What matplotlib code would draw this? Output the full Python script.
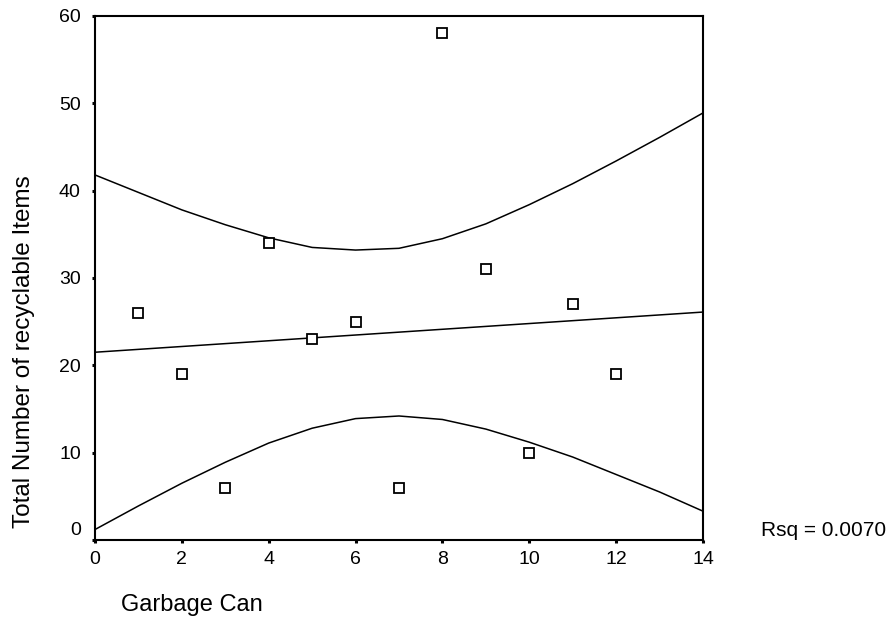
import matplotlib.pyplot as plt
from matplotlib.transforms import ScaledTranslation

plt.rcParams["font.family"] = ["Liberation Sans", "DejaVu Sans"]

# observed points
can = [1, 2, 3, 4, 5, 6, 7, 8, 9, 10, 11, 12]
items = [26, 19, 6, 34, 23, 25, 6, 58, 31, 10, 27, 19]

# fitted line (read at the ends of the x range)
fit_x = [0, 14]
fit_y = [21.5, 26.1]

# confidence band, read at each integer x
band_x = [0, 1, 2, 3, 4, 5, 6, 7, 8, 9, 10, 11, 12, 13, 14]
upper = [41.8, 39.8, 37.8, 36.1, 34.6, 33.5, 33.2, 33.4, 34.5, 36.2, 38.4, 40.8, 43.4, 46.1, 48.9]
lower = [1.2, 3.9, 6.5, 8.9, 11.1, 12.8, 13.9, 14.2, 13.8, 12.7, 11.2, 9.5, 7.5, 5.5, 3.3]

rsq_text = "Rsq = 0.0070"

fig = plt.figure(figsize=(8.9, 6.33), dpi=100)
ax = fig.add_axes([95 / 890, 93 / 633, 608 / 890, 524 / 633])

ax.plot(band_x, upper, color="black", lw=1.1)
ax.plot(band_x, lower, color="black", lw=1.1)
ax.plot(fit_x, fit_y, color="black", lw=1.1)
ax.plot(can, items, ls="none", marker="s", ms=6.5, mfc="white", mec="black", mew=1.3)

ax.set_xlim(0, 14)
ax.set_ylim(0, 60)
ax.set_xticks(range(0, 15, 2))
ax.set_yticks(range(0, 61, 10))
ax.tick_params(direction="out", length=2.2, width=2.2, labelsize=14, color="black")
ax.tick_params(axis="x", pad=6)
ax.tick_params(axis="y", pad=8)
for sp in ax.spines.values():
    sp.set_linewidth(1.5)

# nudge the y "0" label up, clear of the x "0"
lab0 = ax.get_yticklabels()[0]
lab0.set_transform(lab0.get_transform() + ScaledTranslation(0, 8 / 72, fig.dpi_scale_trans))

fig.text(24 / 890, 1 - 352 / 633, "Total Number of recyclable Items", rotation=90,
         ha="center", va="center", fontsize=17.5)
fig.text(121 / 890, 1 - 605 / 633, "Garbage Can", ha="left", va="center", fontsize=17)
fig.text(761 / 890, 1 - 530 / 633, rsq_text, ha="left", va="center", fontsize=15)

fig.savefig("out.png", dpi=100)
